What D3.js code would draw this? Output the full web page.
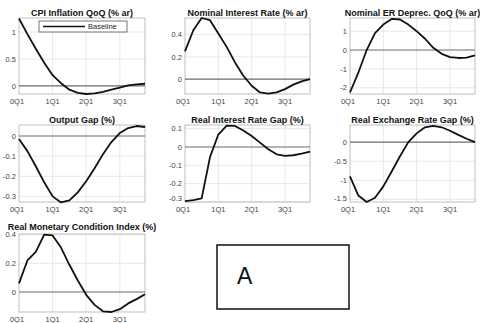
<!DOCTYPE html>
<html>
<head>
<meta charset="utf-8">
<script src="https://cdn.jsdelivr.net/npm/d3@7"></script>
<style>
  body { margin: 0; background: #fff; }
  svg text { font-family: "Liberation Sans", Arial, sans-serif; }
</style>
</head>
<body>
<svg id="chart" width="480" height="323"></svg>
<script>
// quarters 0..15 (0Q1 .. 3Q4)
const quarters = d3.range(16);
const xTickPos = [0, 4, 8, 12];
const xTickLabels = ['0Q1', '1Q1', '2Q1', '3Q1'];

const cpiInflation = [1.25, 0.96, 0.69, 0.43, 0.2, 0.05, -0.07, -0.13, -0.15, -0.14, -0.11, -0.07, -0.03, 0.01, 0.03, 0.04];
const nominalRate = [0.25, 0.44, 0.55, 0.53, 0.41, 0.29, 0.15, 0.03, -0.06, -0.12, -0.13, -0.12, -0.09, -0.05, -0.02, 0.0];
const nominalEr = [-2.25, -1.2, 0.0, 0.9, 1.35, 1.65, 1.62, 1.35, 1.0, 0.6, 0.12, -0.2, -0.37, -0.42, -0.4, -0.28];
const outputGap = [-0.015, -0.075, -0.15, -0.23, -0.3, -0.33, -0.32, -0.28, -0.225, -0.16, -0.09, -0.03, 0.015, 0.04, 0.05, 0.045];
const realRateGap = [-0.295, -0.29, -0.28, -0.055, 0.068, 0.117, 0.115, 0.09, 0.06, 0.024, -0.012, -0.04, -0.048, -0.045, -0.036, -0.025];
const realErGap = [-0.9, -1.4, -1.57, -1.46, -1.16, -0.77, -0.37, 0.0, 0.23, 0.39, 0.43, 0.39, 0.3, 0.19, 0.09, 0.0];
const rmci = [0.06, 0.22, 0.28, 0.4, 0.395, 0.31, 0.19, 0.08, -0.02, -0.09, -0.135, -0.14, -0.12, -0.08, -0.05, -0.016];

const titles = [
  'CPI Inflation QoQ (% ar)',
  'Nominal Interest Rate (% ar)',
  'Nominal ER Deprec. QoQ (% ar)',
  'Output Gap (%)',
  'Real Interest Rate Gap (%)',
  'Real Exchange Rate Gap (%)',
  'Real Monetary Condition Index (%)'
];
const series = [cpiInflation, nominalRate, nominalEr, outputGap, realRateGap, realErGap, rmci];
const yTicks = [
  [0, 0.5, 1],
  [0, 0.2, 0.4],
  [-2, -1, 0, 1],
  [-0.3, -0.2, -0.1, 0],
  [-0.3, -0.2, -0.1, 0, 0.1],
  [-1.5, -1, -0.5, 0],
  [0, 0.2, 0.4]
];
const yDomains = [
  [-0.15, 1.26],
  [-0.134, 0.55],
  [-2.33, 1.7],
  [-0.328, 0.055],
  [-0.3, 0.12],
  [-1.57, 0.45],
  [-0.14, 0.405]
];
const legendLabel = 'Baseline';

// panel boxes: [left, right, top, bottom]
const cols = [[19, 145], [185, 310], [350, 475]];
const rows = [[18, 94], [125, 202], [234, 312]];

const svg = d3.select('#chart');

series.forEach((vals, i) => {
  const [x0, x1] = cols[i % 3];
  const [y0, y1] = rows[Math.floor(i / 3)];
  const x = d3.scaleLinear().domain([0, 15]).range([x0, x1]);
  const y = d3.scaleLinear().domain(yDomains[i]).range([y1, y0]);
  const g = svg.append('g');

  // grid
  g.selectAll('.vgrid').data(xTickPos.slice(1)).enter().append('line')
    .attr('x1', d => x(d)).attr('x2', d => x(d))
    .attr('y1', y0).attr('y2', y1)
    .attr('stroke', '#e2e2e2').attr('stroke-width', 0.8);
  g.selectAll('.hgrid').data(yTicks[i].filter(d => d !== 0)).enter().append('line')
    .attr('x1', x0).attr('x2', x1)
    .attr('y1', d => y(d)).attr('y2', d => y(d))
    .attr('stroke', '#e2e2e2').attr('stroke-width', 0.8);

  // frame
  g.append('rect')
    .attr('x', x0).attr('y', y0)
    .attr('width', x1 - x0).attr('height', y1 - y0)
    .attr('fill', 'none').attr('stroke', '#b0b0b0').attr('stroke-width', 0.8);

  // zero line
  g.append('line')
    .attr('x1', x0).attr('x2', x1)
    .attr('y1', y(0)).attr('y2', y(0))
    .attr('stroke', '#6a6a6a').attr('stroke-width', 1.1);

  // tick labels (keep the bottom label clear of the x labels)
  g.selectAll('.ylab').data(yTicks[i]).enter().append('text')
    .attr('x', x0 - 3)
    .attr('y', d => Math.min(y(d) + 2.7, y1 - 1))
    .attr('text-anchor', 'end')
    .attr('font-size', 7.5).attr('fill', '#444')
    .text(d => String(d));
  g.selectAll('.xlab').data(xTickPos).enter().append('text')
    .attr('x', (d, j) => x(d) + (j === 0 ? -2 : 0)).attr('y', y1 + 9.5)
    .attr('text-anchor', 'middle')
    .attr('font-size', 7.5).attr('fill', '#444')
    .text((d, j) => xTickLabels[j]);

  // line
  g.append('path')
    .datum(vals)
    .attr('d', d3.line().x((d, j) => x(quarters[j])).y(d => y(d)))
    .attr('fill', 'none').attr('stroke', '#111').attr('stroke-width', 1.8)
    .attr('stroke-linejoin', 'round');

  // title
  g.append('text')
    .attr('x', (x0 + x1) / 2).attr('y', y0 - (i === 6 ? 4.5 : 2.5))
    .attr('text-anchor', 'middle')
    .attr('font-size', 9).attr('font-weight', 'bold').attr('fill', '#111')
    .text(titles[i]);

  if (i === 0) {
    // legend
    const lg = g.append('g');
    lg.append('rect').attr('x', 39).attr('y', 21).attr('width', 88).attr('height', 11)
      .attr('fill', '#fff').attr('stroke', '#555').attr('stroke-width', 0.8);
    lg.append('line').attr('x1', 43).attr('x2', 85).attr('y1', 26.5).attr('y2', 26.5)
      .attr('stroke', '#111').attr('stroke-width', 1.6);
    lg.append('text').attr('x', 88).attr('y', 29.3)
      .attr('font-size', 7.5).attr('fill', '#222').text(legendLabel);
  }
});

// annotation box
svg.append('rect')
  .attr('x', 217).attr('y', 245).attr('width', 132).attr('height', 64)
  .attr('fill', '#fff').attr('stroke', '#111').attr('stroke-width', 1.5);
svg.append('text')
  .attr('x', 237).attr('y', 284)
  .attr('font-size', 23).attr('fill', '#111')
  .text('A');
</script>
</body>
</html>
